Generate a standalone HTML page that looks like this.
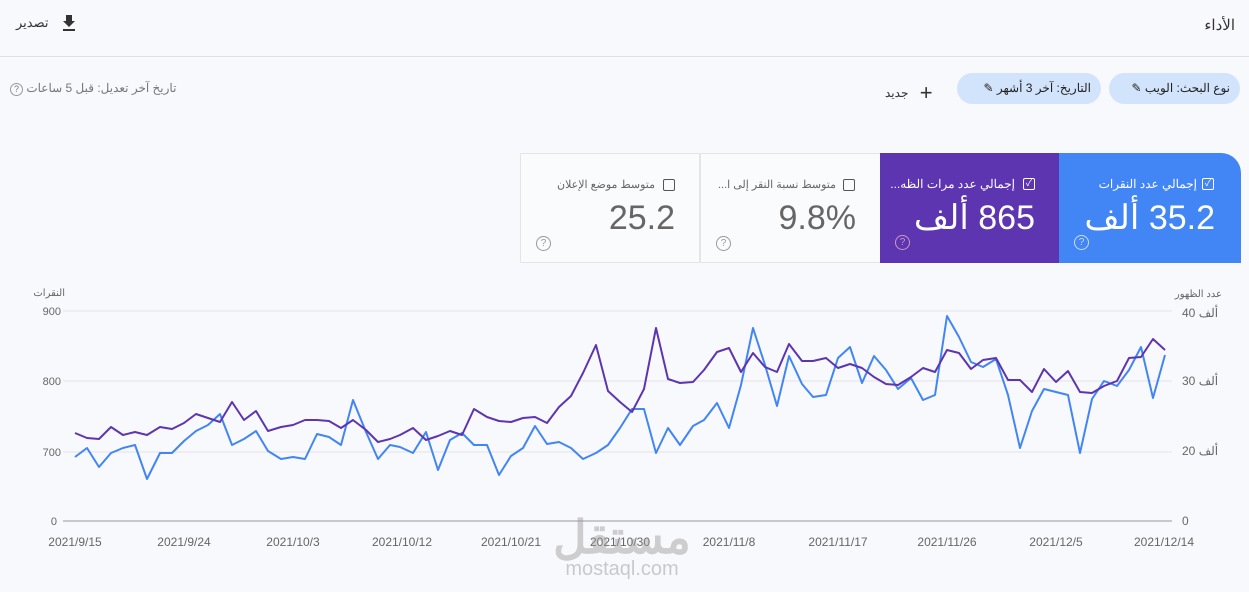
<!DOCTYPE html>
<html><head><meta charset="utf-8"><style>
body{margin:0;width:1249px;height:592px;background:#f8f9fd;font-family:"Liberation Sans","Noto Sans CJK SC",sans-serif;position:relative;overflow:hidden;color:#333}
.a{position:absolute;white-space:nowrap}
.chip{position:absolute;top:73px;height:31px;border-radius:16px;background:#d2e3fc;font-size:12px;color:#222;line-height:31px;padding:0 10px;box-sizing:border-box;direction:rtl}
.card{position:absolute;top:153px;height:110px;box-sizing:border-box}
.cb{position:absolute;top:25px;width:12px;height:12px;border:1.5px solid #555;border-radius:2px;box-sizing:border-box;font-size:9px;line-height:9px;text-align:center}
.lbl{position:absolute;top:24px;font-size:12px;direction:rtl}
.val{position:absolute;top:45px;font-size:34px;direction:rtl}
.q{position:absolute;left:15px;top:82px;width:13px;height:13px;border:1px solid #999;border-radius:50%;font-size:10px;text-align:center;line-height:13px;color:#999}
</style></head><body>
<div class="a" style="right:14px;top:16px;font-size:15px;color:#333">الأداء</div>
<div class="a" style="left:16px;top:15px;font-size:13px;">تصدير</div>
<svg class="a" style="left:62px;top:14px" width="14" height="18"><path d="M4 1h6v6h3l-6 6-6-6h3z" fill="#333"/><rect x="1" y="15" width="12" height="2" fill="#333"/></svg>
<div class="a" style="left:0;top:56px;width:1249px;height:1px;background:#e0e0e0"></div>
<div class="chip" style="left:1109px;width:131px">نوع البحث: الويب ✎</div>
<div class="chip" style="left:957px;width:144px">التاريخ: آخر 3 أشهر ✎</div>
<div class="a" style="left:885px;top:80px;font-size:12px">جديد <span style="font-size:22px;vertical-align:-3px;margin-left:8px">+</span></div>
<div class="a" style="left:10px;top:81px;font-size:12px;color:#777"><span style="display:inline-block;width:11px;height:11px;border:1px solid #999;border-radius:50%;font-size:9px;text-align:center;line-height:11px">?</span> <span dir="rtl">تاريخ آخر تعديل: قبل 5 ساعات</span></div>

<div class="card" style="left:1059px;width:182px;background:#4285f4;border-top-right-radius:20px;color:#fff">
<div class="cb" style="left:143px;border-color:#fff">✓</div><div class="lbl" style="right:44px">إجمالي عدد النقرات</div>
<div class="val" style="right:26px">35.2 ألف</div><div class="q" style="border-color:#cde;color:#cde">?</div></div>
<div class="card" style="left:880px;width:179px;background:#5e35b1;color:#fff">
<div class="cb" style="left:143px;border-color:#fff">✓</div><div class="lbl" style="right:44px">إجمالي عدد مرات الظه...</div>
<div class="val" style="right:24px">865 ألف</div><div class="q" style="border-color:#c9b;color:#c9b">?</div></div>
<div class="card" style="left:700px;width:180px;background:#fafbfd;border:1px solid #e5e5e5;border-right:none">
<div class="cb" style="left:142px"></div><div class="lbl" style="right:44px;color:#666;font-size:11px">متوسط نسبة النقر إلى ا...</div>
<div class="val" style="right:24px;color:#666;direction:ltr">9.8%</div><div class="q">?</div></div>
<div class="card" style="left:520px;width:180px;background:#fafbfd;border:1px solid #e5e5e5">
<div class="cb" style="left:142px"></div><div class="lbl" style="right:44px;color:#666;font-size:11px">متوسط موضع الإعلان</div>
<div class="val" style="right:24px;color:#666">25.2</div><div class="q">?</div></div>

<svg class="a" style="left:0;top:0" width="1249" height="592">
<g stroke="#e3e3e6" stroke-width="1"><line x1="63" y1="311" x2="1172" y2="311"/><line x1="63" y1="381" x2="1172" y2="381"/><line x1="63" y1="452" x2="1172" y2="452"/></g>
<line x1="63" y1="521" x2="1172" y2="521" stroke="#999"/>
<g font-size="11" fill="#666" font-family="Liberation Sans,sans-serif">
<text x="61" y="315" text-anchor="end">900</text><text x="61" y="385" text-anchor="end">800</text><text x="61" y="456" text-anchor="end">700</text><text x="57" y="525" text-anchor="end">0</text>
<text x="65" y="296" text-anchor="end" font-size="10">النقرات</text>
<text x="1222" y="297" text-anchor="end" font-size="10">عدد الظهور</text>
<text x="1182" y="317" font-size="12">40 ألف</text><text x="1182" y="385" font-size="12">30 ألف</text><text x="1182" y="455" font-size="12">20 ألف</text><text x="1182" y="525" font-size="12">0</text>
<g font-size="12" text-anchor="middle"><text x="75" y="546">2021/9/15</text><text x="184" y="546">2021/9/24</text><text x="293" y="546">2021/10/3</text><text x="402" y="546">2021/10/12</text><text x="511" y="546">2021/10/21</text><text x="620" y="546">2021/10/30</text><text x="729" y="546">2021/11/8</text><text x="838" y="546">2021/11/17</text><text x="947" y="546">2021/11/26</text><text x="1056" y="546">2021/12/5</text><text x="1164" y="546">2021/12/14</text></g>
</g>
<text x="622" y="553" text-anchor="middle" font-size="46" font-weight="bold" fill="#9a9a9a" opacity="0.45">مستقل</text>
<text x="622" y="575" text-anchor="middle" font-size="20" fill="#9a9a9a" opacity="0.5">mostaql.com</text>
<polyline fill="none" stroke="#4285f4" stroke-width="2" stroke-linejoin="round" points="75,457 87,448 99,467 111,453 123,448 135,445 147,479 160,453 172,453 184,441 196,431 208,425 220,414 232,445 244,439 256,431 268,451 281,459 293,457 305,459 317,434 329,437 341,445 353,400 366,432 378,459 390,445 400,447 413,453 426,432 438,470 450,440 462,433 474,445 487,445 499,475 511,456 523,448 535,426 547,444 559,442 571,448 583,459 596,453 608,445 620,428 632,409 644,409 656,453 668,428 680,445 693,426 704,420 717,403 729,428 741,385 753,328 765,365 777,406 789,356 802,384 813,397 826,395 838,358 850,347 862,383 874,356 886,370 898,389 911,378 923,400 935,395 947,316 959,337 971,362 983,367 996,359 1008,395 1020,448 1032,411 1044,389 1056,392 1068,395 1080,453 1092,399 1104,381 1117,386 1129,370 1141,347 1153,398 1165,355"/>
<polyline fill="none" stroke="#5e35b1" stroke-width="2" stroke-linejoin="round" points="75,433 87,438 99,439 111,427 123,435 135,432 147,435 160,427 172,429 184,423 196,414 208,418 220,422 232,402 244,420 256,411 268,431 281,427 293,425 305,420 317,420 329,421 341,428 353,420 366,430 378,442 390,439 400,435 413,428 426,440 438,436 450,431 462,435 474,409 487,417 499,421 511,422 523,418 535,417 547,423 559,407 571,396 583,373 596,345 608,391 620,402 632,412 644,389 656,328 668,379 680,383 693,382 704,370 717,352 729,348 741,372 753,353 765,367 777,372 789,344 802,361 813,361 826,358 838,368 850,364 862,368 874,377 886,384 898,385 911,377 923,368 935,372 947,350 959,353 971,369 983,360 996,358 1008,380 1020,380 1032,392 1044,369 1056,382 1068,371 1080,392 1092,393 1104,386 1117,381 1129,358 1141,357 1153,339 1165,350"/>
</svg>
</body></html>
